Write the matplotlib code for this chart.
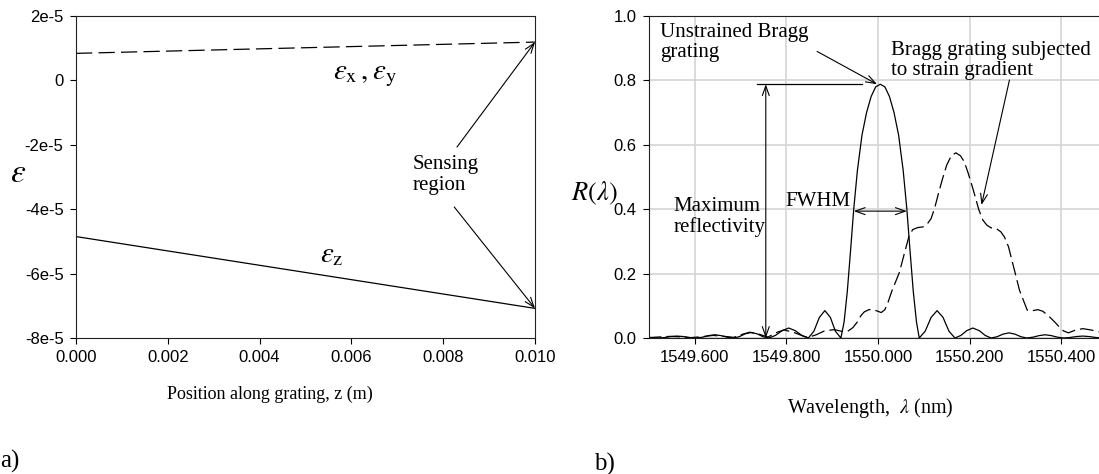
import matplotlib
matplotlib.use("Agg")
import matplotlib.pyplot as plt

plt.rcParams["mathtext.fontset"] = "stix"
SERIF = "Liberation Serif"
SANS = "Liberation Sans"

# ---------------- (a) strain along the grating ----------------
z_pos = [0.0, 0.010]
eps_xy = [0.84e-5, 1.19e-5]
eps_z = [-4.85e-5, -7.08e-5]
a_xticks = [0.0, 0.002, 0.004, 0.006, 0.008, 0.010]
a_xlabels = ["0.000", "0.002", "0.004", "0.006", "0.008", "0.010"]
a_yticks = [2e-5, 0.0, -2e-5, -4e-5, -6e-5, -8e-5]
a_ylabels = ["2e-5", "0", "-2e-5", "-4e-5", "-6e-5", "-8e-5"]

# ---------------- (b) reflection spectra ----------------
wl_unstrained = [
    1549.497, 1549.520, 1549.534, 1549.548, 1549.561, 1549.575, 1549.589,
    1549.603, 1549.617, 1549.630, 1549.644, 1549.657, 1549.671,
    1549.684, 1549.697, 1549.710, 1549.723, 1549.736, 1549.749,
    1549.762, 1549.776, 1549.791, 1549.805, 1549.819, 1549.834,
    1549.848, 1549.860, 1549.872, 1549.884, 1549.896, 1549.907,
    1549.919, 1549.926, 1549.933, 1549.940, 1549.947, 1549.955, 1549.965,
    1549.975, 1549.985, 1549.995, 1550.005, 1550.015, 1550.025, 1550.035,
    1550.045, 1550.055, 1550.063, 1550.070, 1550.077, 1550.084,
    1550.090, 1550.103, 1550.116, 1550.129, 1550.142, 1550.155,
    1550.168, 1550.181, 1550.194, 1550.207, 1550.221, 1550.234,
    1550.247, 1550.260, 1550.273, 1550.286, 1550.299, 1550.312,
    1550.325, 1550.338, 1550.352, 1550.365, 1550.378, 1550.392,
    1550.405, 1550.419, 1550.433, 1550.447, 1550.461, 1550.476, 1550.490,
]
r_unstrained = [
    0.002, 0.000, 0.0015, 0.0045, 0.006, 0.0045, 0.0015,
    0.000, 0.0025, 0.0075, 0.010, 0.0075, 0.0025,
    0.000, 0.004, 0.013, 0.017, 0.013, 0.004,
    0.000, 0.008, 0.023, 0.031, 0.023, 0.008,
    0.000, 0.021, 0.064, 0.085, 0.064, 0.021,
    0.000, 0.050, 0.145, 0.270, 0.400, 0.520, 0.630,
    0.700, 0.750, 0.780, 0.788, 0.780, 0.750, 0.700,
    0.630, 0.520, 0.400, 0.270, 0.145, 0.050,
    0.000, 0.021, 0.064, 0.085, 0.064, 0.021,
    0.000, 0.008, 0.023, 0.031, 0.023, 0.008,
    0.000, 0.004, 0.012, 0.016, 0.012, 0.004,
    0.000, 0.0025, 0.0075, 0.010, 0.0075, 0.0025,
    0.000, 0.0015, 0.0045, 0.006, 0.0045, 0.0015, 0.000,
]
wl_strained = [
    1549.497, 1549.520, 1549.545, 1549.565, 1549.590, 1549.615, 1549.640,
    1549.665, 1549.685, 1549.705, 1549.720, 1549.740, 1549.760, 1549.780,
    1549.795, 1549.815, 1549.840, 1549.850, 1549.865, 1549.883, 1549.905,
    1549.920, 1549.933, 1549.945, 1549.955, 1549.963, 1549.970, 1549.980,
    1549.988, 1549.998, 1550.007, 1550.015, 1550.021, 1550.030, 1550.040,
    1550.047, 1550.058, 1550.068, 1550.076, 1550.087, 1550.098, 1550.108,
    1550.116, 1550.124, 1550.132, 1550.141, 1550.150, 1550.160, 1550.170,
    1550.180, 1550.188, 1550.196, 1550.208, 1550.220, 1550.229, 1550.238,
    1550.247, 1550.258, 1550.268, 1550.276, 1550.285, 1550.298, 1550.309,
    1550.326, 1550.338, 1550.349, 1550.360, 1550.375, 1550.387, 1550.396,
    1550.405, 1550.416, 1550.430, 1550.447, 1550.465, 1550.482,
]
r_strained = [
    0.001, 0.003, 0.005, 0.004, 0.001, 0.004, 0.008,
    0.005, 0.002, 0.012, 0.018, 0.012, 0.003, 0.018,
    0.025, 0.018, 0.004, 0.003, 0.010, 0.022, 0.026,
    0.021, 0.020, 0.032, 0.050, 0.070, 0.081, 0.088,
    0.089, 0.084, 0.079, 0.088, 0.107, 0.145, 0.180,
    0.205, 0.265, 0.318, 0.337, 0.343, 0.345, 0.355,
    0.371, 0.405, 0.449, 0.495, 0.537, 0.566, 0.575,
    0.566, 0.548, 0.516, 0.460, 0.399, 0.366, 0.350,
    0.342, 0.340, 0.330, 0.314, 0.283, 0.210, 0.148,
    0.086, 0.085, 0.088, 0.083, 0.065, 0.048, 0.034,
    0.022, 0.016, 0.024, 0.029, 0.025, 0.019,
]
b_xticks = [1549.6, 1549.8, 1550.0, 1550.2, 1550.4]
b_xlabels = ["1549.600", "1549.800", "1550.000", "1550.200", "1550.400"]
b_yticks = [0.0, 0.2, 0.4, 0.6, 0.8, 1.0]
b_ylabels = ["0.0", "0.2", "0.4", "0.6", "0.8", "1.0"]

R_MAX = max(r_unstrained)
FWHM_LEFT, FWHM_RIGHT = 1549.947, 1550.063

W, H = 1099, 474
fig = plt.figure(figsize=(W / 100, H / 100), dpi=100)


def frac(x0, y0, x1, y1):
    return [x0 / W, 1 - y1 / H, (x1 - x0) / W, (y1 - y0) / H]


def fpos(x, y):
    return x / W, 1 - y / H


def style_ticks(ax):
    ax.tick_params(direction="out", length=4, width=0.8, color="black",
                   labelsize=12, pad=5)
    for lab in ax.get_xticklabels() + ax.get_yticklabels():
        lab.set_fontfamily(SANS)
    for sp in ax.spines.values():
        sp.set_linewidth(0.8)
        sp.set_color("#222222")


arrow_kw = dict(arrowstyle="->,head_length=0.7,head_width=0.25",
                lw=0.8, color="black", shrinkA=0, shrinkB=0)
dbl_kw = dict(arrowstyle="<->,head_length=0.7,head_width=0.25",
              lw=0.8, color="black", shrinkA=0, shrinkB=0)

# ---------------- panel (a) ----------------
ax1 = fig.add_axes(frac(76, 16, 535, 338))
line_xy, = ax1.plot(z_pos, eps_xy, color="black", lw=0.9)
line_xy.set_dashes([13, 5])
ax1.plot(z_pos, eps_z, color="black", lw=0.9)
ax1.set_xlim(0.0, 0.010)
ax1.set_ylim(-8e-5, 2e-5)
ax1.set_xticks(a_xticks)
ax1.set_xticklabels(a_xlabels)
ax1.set_yticks(a_yticks)
ax1.set_yticklabels(a_ylabels)
style_ticks(ax1)

ax1.text(0.0063, 0.17e-5, r"$\varepsilon_{\mathrm{x}}\,,\varepsilon_{\mathrm{y}}$",
         fontsize=21, ha="center", va="center")
ax1.text(0.00558, -5.39e-5, r"$\varepsilon_{\mathrm{z}}$",
         fontsize=21, ha="center", va="center")
ax1.text(0.00734, -2.94e-5, "Sensing\nregion", fontsize=15, family=SERIF,
         ha="left", va="center", linespacing=1.1)
ax1.annotate("", xy=(z_pos[-1], eps_xy[-1]), xytext=(0.0083, -2.07e-5),
             arrowprops=arrow_kw)
ax1.annotate("", xy=(z_pos[-1], eps_z[-1]), xytext=(0.00824, -3.93e-5),
             arrowprops=arrow_kw)

fig.text(*fpos(18, 172), r"$\varepsilon$", fontsize=24, ha="center", va="center")
fig.text(*fpos(270, 394), "Position along grating, z (m)", fontsize=13,
         family=SERIF, ha="center", va="center")
fig.text(*fpos(10, 461), "a)", fontsize=18, family=SERIF, ha="center", va="center")

# ---------------- panel (b) ----------------
ax2 = fig.add_axes(frac(649, 16, 1107, 338))
ax2.set_xlim(1549.5, 1550.5)
ax2.set_ylim(0.0, 1.0)
ax2.set_xticks(b_xticks)
ax2.set_xticklabels(b_xlabels)
ax2.set_yticks(b_yticks)
ax2.set_yticklabels(b_ylabels)
ax2.grid(True, color="#d4d4d4", lw=1.2)
ax2.set_axisbelow(True)
ax2.spines["right"].set_visible(False)
style_ticks(ax2)

ax2.plot(wl_unstrained, r_unstrained, color="black", lw=0.9)
line_s, = ax2.plot(wl_strained, r_strained, color="black", lw=0.9)
line_s.set_dashes([11, 4])

ax2.text(1549.524, 0.917, "Unstrained Bragg\ngrating", fontsize=15, family=SERIF,
         ha="left", va="center", linespacing=1.1)
ax2.annotate("", xy=(1549.998, R_MAX), xytext=(1549.867, 0.890), arrowprops=arrow_kw)
ax2.text(1550.029, 0.861, "Bragg grating subjected\nto strain gradient", fontsize=15,
         family=SERIF, ha="left", va="center", linespacing=1.1)
ax2.annotate("", xy=(1550.226, 0.413), xytext=(1550.287, 0.801), arrowprops=arrow_kw)

ax2.plot([1549.735, 1549.966], [R_MAX, R_MAX], color="black", lw=0.9)
ax2.annotate("", xy=(1549.755, R_MAX), xytext=(1549.755, 0.0), arrowprops=dbl_kw)
ax2.text(1549.553, 0.375, "Maximum\nreflectivity", fontsize=15, family=SERIF,
         ha="left", va="center", linespacing=1.1)
ax2.annotate("", xy=(FWHM_LEFT, R_MAX / 2), xytext=(FWHM_RIGHT, R_MAX / 2),
             arrowprops=dbl_kw)
ax2.text(1549.869, 0.424, "FWHM", fontsize=15, family=SERIF, ha="center", va="center")

fig.text(*fpos(594, 193), r"$R(\lambda)$", fontsize=19, ha="center", va="center")
fig.text(*fpos(870, 408), r"Wavelength,  $\lambda$ (nm)", fontsize=14.5,
         family=SERIF, ha="center", va="center")
fig.text(*fpos(604, 464), "b)", fontsize=18, family=SERIF, ha="center", va="center")

fig.savefig("out.png", dpi=100)
